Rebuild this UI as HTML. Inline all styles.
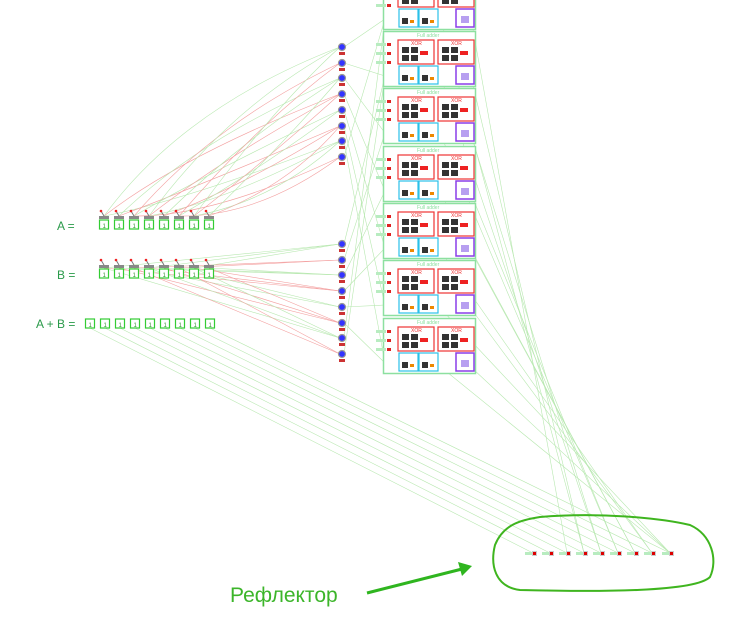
<!DOCTYPE html>
<html><head><meta charset="utf-8"><style>
body{margin:0;background:#fff;}
svg{display:block;font-family:"Liberation Sans",sans-serif;}
</style></head><body>
<svg id="s" width="751" height="630" viewBox="0 0 751 630" xmlns="http://www.w3.org/2000/svg">
<g id="wires"></g>
<g id="parts"></g>
<text x="57" y="230" font-size="12" fill="#2a9a4a">A =</text>
<text x="57" y="279" font-size="12" fill="#2a9a4a">B =</text>
<text x="36" y="328" font-size="12" fill="#2a9a4a">A + B =</text>
<path d="M540,517 C600,512 660,518 690,525 C712,535 718,560 710,577 C695,592 600,592 520,590 C495,587 490,565 495,545 C503,525 520,520 540,517 Z" fill="none" stroke="#3fb51f" stroke-width="2"/>
<line x1="367" y1="593" x2="466" y2="568" stroke="#2fb51f" stroke-width="3"/>
<polygon points="472,566 458,562 462,576" fill="#2fb51f"/>
<text x="230" y="602" font-size="21" fill="#3cb52a">Рефлектор</text>
</svg>
<script>
const NS="http://www.w3.org/2000/svg";
const wires=document.getElementById('wires'),parts=document.getElementById('parts');
function mk(p,tag,a,name){const e=document.createElementNS(NS,tag);for(const k in a)e.setAttribute(k,a[k]);


p.appendChild(e);return e;}
const blockTops=[-26,31,88,146,203,260,318];
const aX=[104,119,134,149,164,179,194,209];
const sumX=[90,105,120,135,150,165,180,195,210];
const ledX=[533,550,567,584,601,618,635,652,670];
const circU=[47,63,78,94,110,126,141,157];
const circL=[244,260,275,291,307,323,338,354];
aX.forEach((x,i)=>{
 circU.forEach((cy,j)=>{if((i+j)%3==0)mk(wires,'path',{d:`M${x},216 Q${x+80},${cy+60} 340,${cy}`,fill:'none',stroke:j%2?'#f3a0a0':'#b8e8b0','stroke-width':0.6},'wire');});
 circL.forEach((cy,j)=>{if((i+j)%3==0)mk(wires,'line',{x1:x,y1:268,x2:340,y2:cy,stroke:j%2?'#f3a0a0':'#b8e8b0','stroke-width':0.6},'wire');});
});
circU.concat(circL).forEach((cy,j)=>{mk(wires,'line',{x1:344,y1:cy,x2:385,y2:blockTops[j%7]+45,stroke:'#b8e8b0','stroke-width':0.6},'wire');});
sumX.forEach((x,i)=>{mk(wires,'line',{x1:x,y1:328,x2:ledX[i],y2:553,stroke:'#b8e8b0','stroke-width':0.6},'wire');});
blockTops.forEach((t,i)=>{for(let k=0;k<2;k++)mk(wires,'line',{x1:472-k*30,y1:t+50,x2:ledX[Math.min(8,i+k+2)],y2:553,stroke:'#b8e8b0','stroke-width':0.6},'wire');});
[226,275].forEach((y,r)=>aX.forEach(x=>{
 mk(parts,'line',{x1:x,y1:y-10,x2:x-3,y2:y-15,stroke:'#777','stroke-width':1},'switch-lever');
 mk(parts,'circle',{cx:x-3,cy:y-15,r:1.3,fill:'#e22'},'switch-knob');
 mk(parts,'rect',{x:x-5,y:y-10,width:10,height:3,fill:'#888'},'switch-base');
 mk(parts,'rect',{x:x-4.5,y:y-6,width:9,height:9,fill:'#fff',stroke:'#3c3','stroke-width':1.2},'switch-box');
 mk(parts,'text',{x:x-1.5,y:y+2,'font-size':6,fill:'#393'},'switch-value').textContent='1';
}));
sumX.forEach(x=>{
 mk(parts,'rect',{x:x-4.5,y:319,width:9,height:9,fill:'#fff',stroke:'#3c3','stroke-width':1.2},'sum-bit-box');
 mk(parts,'text',{x:x-1.5,y:327,'font-size':6,fill:'#393'},'sum-bit-value').textContent='1';
});
circU.concat(circL).forEach(cy=>{
 mk(parts,'circle',{cx:342,cy:cy,r:3.5,fill:'#33f',stroke:'#999','stroke-width':1.2},'junction');
 mk(parts,'rect',{x:339,y:cy+5,width:6,height:3,fill:'#c33'},'junction-mark');
});
blockTops.forEach(t=>{
 mk(parts,'rect',{x:383.5,y:t+0.5,width:92,height:55,fill:'#fff',stroke:'#8de0a0','stroke-width':1.5},'full-adder-block');
 mk(parts,'text',{x:417,y:t+6,'font-size':5,fill:'#8de0a0'},'full-adder-label').textContent='Full adder';
 [398,438].forEach(x=>{
  mk(parts,'rect',{x:x,y:t+9,width:36,height:24,fill:'#fff',stroke:'#e33','stroke-width':1.2},'xor-gate');
  mk(parts,'text',{x:x+13,y:t+14,'font-size':5,fill:'#e33'},'xor-label').textContent='XOR';
  mk(parts,'rect',{x:x+4,y:t+16,width:7,height:6,fill:'#333'},'xor-cell');
  mk(parts,'rect',{x:x+13,y:t+16,width:7,height:6,fill:'#333'},'xor-cell');
  mk(parts,'rect',{x:x+4,y:t+24,width:7,height:6,fill:'#333'},'xor-cell');
  mk(parts,'rect',{x:x+13,y:t+24,width:7,height:6,fill:'#333'},'xor-cell');
  mk(parts,'rect',{x:x+22,y:t+20,width:8,height:4,fill:'#e22'},'xor-out');
 });
 [399,419].forEach(x=>{
  mk(parts,'rect',{x:x,y:t+35,width:19,height:18,fill:'#fff',stroke:'#2bc0e8','stroke-width':1.2},'and-gate');
  mk(parts,'rect',{x:x+3,y:t+44,width:6,height:6,fill:'#333'},'and-cell');
  mk(parts,'rect',{x:x+11,y:t+46,width:4,height:3,fill:'#e80'},'and-out');
 });
 mk(parts,'rect',{x:456,y:t+35,width:18,height:18,fill:'#fff',stroke:'#8a3ee8','stroke-width':1.5},'or-gate');
 mk(parts,'rect',{x:461,y:t+42,width:8,height:7,fill:'#b79ff0'},'or-cell');
 [13,22,31].forEach(d=>{
  mk(parts,'rect',{x:376,y:t+d-1,width:10,height:3,fill:'#b8ecc0'},'input-pin');
  mk(parts,'rect',{x:387,y:t+d-1,width:4,height:3,fill:'#d22'},'input-pin-mark');
 });
});
ledX.forEach(x=>{
 mk(parts,'rect',{x:x-8,y:552,width:7,height:3,fill:'#b8ecc0'},'led-wire');
 mk(parts,'rect',{x:x-1,y:551,width:5,height:5,fill:'#ccc'},'led');
 mk(parts,'rect',{x:x,y:552,width:3,height:3,fill:'#d00'},'led-light');
});
</script>
</body></html>
